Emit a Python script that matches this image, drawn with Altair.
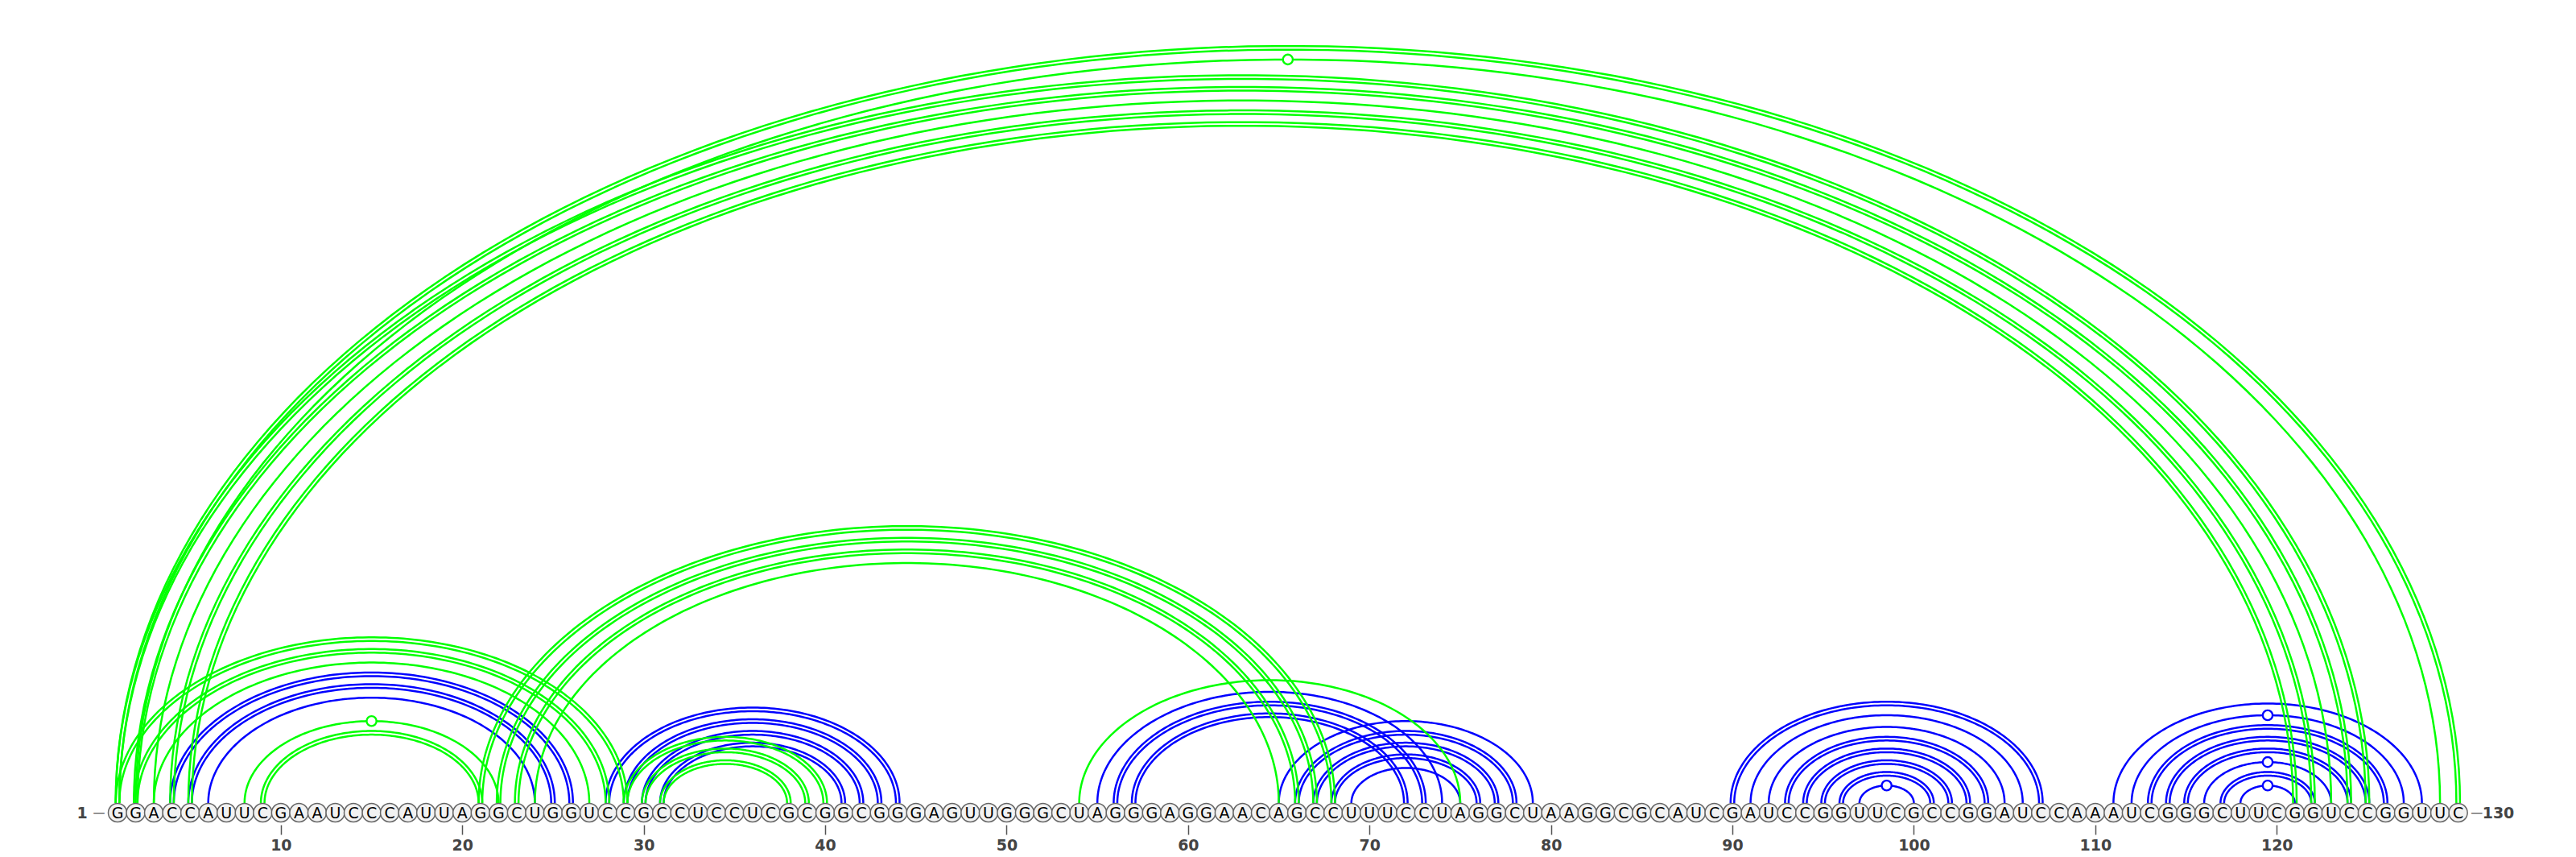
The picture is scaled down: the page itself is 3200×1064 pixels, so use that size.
import altair as alt
import numpy as np
import pandas as pd

sequence = list("GGACCAUUCGAAUCCCAUUAGGCUGGUCCGCCUCCUCGCGGCGGGAGUUGGGCUAGGGAGGAACAGCCUUUCC"
                "UAGGCUAAGGCGCAUCGAUCCGGUUCGCCGGAUCCAAAUCGGGCUUCGGUCCGGUUC")
positions = list(range(1, len(sequence) + 1))
tick_values = list(range(10, 130, 10))

# green structure: 5' end, 3' end, number of strokes drawn for the pair
green_5p = [1, 2, 1, 2, 3, 4, 5, 1, 2, 3, 8, 9, 21, 22, 23, 24, 29, 30, 31, 54]
green_3p = [130, 129, 125, 124, 123, 122, 121, 29, 28, 27, 22, 21, 68, 67, 66, 65, 40, 39, 38, 75]
green_strokes = [2, 1, 2, 2, 1, 2, 2, 2, 2, 1, 1, 2, 2, 2, 2, 1, 2, 2, 2, 1]

# blue structure
blue_5p = [4, 5, 6, 28, 29, 30, 31, 55, 56, 57, 65, 66, 67, 68, 69,
           90, 91, 92, 93, 94, 95, 96, 97, 111, 112, 113, 114, 115, 116, 117, 118]
blue_3p = [26, 25, 24, 44, 43, 42, 41, 74, 73, 72, 79, 78, 77, 76, 75,
           107, 106, 105, 104, 103, 102, 101, 100, 128, 127, 126, 125, 124, 123, 122, 121]
blue_strokes = [2, 2, 1, 2, 2, 2, 2, 1, 2, 2, 1, 2, 2, 2, 1,
                2, 1, 1, 2, 2, 2, 2, 1, 1, 1, 2, 2, 2, 1, 2, 1]

W, H = 3184, 1058
PX = 22.54          # pixels per nucleotide, same on both axes
BASE_R = 0.53       # nucleotide circle radius in nucleotide units
ASPECT = 0.645      # arc height / half width
GAP = 0.1           # half distance between the two strokes of a doubled arc

x_lo = 1 - 138 / PX
x_hi = x_lo + W / PX
y_hi = 1001 / PX
y_lo = y_hi - H / PX


def arc_frame(five, three, strokes, name):
    t = np.linspace(0, np.pi, 140)
    parts = []
    for k, (i, j, n) in enumerate(zip(five, three, strokes)):
        half = (j - i) / 2
        for off in ([0.0] if n == 1 else [-GAP, GAP]):
            parts.append(pd.DataFrame({
                'arc': f'{name}-{k}-{off}',
                'step': range(len(t)),
                'x': (i + j) / 2 - (half + off) * np.cos(t),
                'y': BASE_R + (ASPECT * half + off) * np.sin(t),
            }))
    return pd.concat(parts, ignore_index=True)


def wobble_frame(five, three):
    rows = []
    for i, j in zip(five, three):
        if {sequence[i - 1], sequence[j - 1]} == {'G', 'U'}:
            rows.append({'x': (i + j) / 2, 'y': BASE_R + ASPECT * (j - i) / 2})
    return pd.DataFrame(rows)


x_scale = alt.Scale(domain=[x_lo, x_hi], nice=False, zero=False)
y_scale = alt.Scale(domain=[y_lo, y_hi], nice=False, zero=False)
x_axis = alt.Axis(values=tick_values, format='d', orient='bottom', offset=-(H - 1016),
                  tickSize=12, tickWidth=1.5, tickColor='#555555', domain=False, grid=False,
                  labelFontSize=19, labelFontWeight='bold', labelColor='#444444',
                  labelFont='DejaVu Sans', labelPadding=4, title=None)


def arcs(df, color):
    return alt.Chart(df).mark_line(color=color, strokeWidth=2.5).encode(
        x=alt.X('x:Q', scale=x_scale, axis=x_axis),
        y=alt.Y('y:Q', scale=y_scale, axis=None),
        detail='arc:N',
        order='step:Q'
    )


def wobbles(df, color):
    return alt.Chart(df).mark_point(shape='circle', size=150, fill='white', stroke=color,
                                    strokeWidth=2.4, opacity=1, fillOpacity=1).encode(
        x=alt.X('x:Q', scale=x_scale, axis=x_axis),
        y=alt.Y('y:Q', scale=y_scale, axis=None)
    )


bases = pd.DataFrame({'x': positions, 'y': 0.0, 'base': sequence})
ends = pd.DataFrame({'x': [1, 130], 'y': [0.0, 0.0], 'label': ['1', '130']})

base_circles = alt.Chart(bases).mark_point(shape='circle', size=530, fill='#f2f2f2',
                                           stroke='#666666', strokeWidth=1.5,
                                           opacity=1, fillOpacity=1).encode(
    x=alt.X('x:Q', scale=x_scale, axis=x_axis),
    y=alt.Y('y:Q', scale=y_scale, axis=None)
)
base_text = alt.Chart(bases).mark_text(fontSize=19, font='DejaVu Sans', color='black',
                                       baseline='middle', dy=1).encode(
    x=alt.X('x:Q', scale=x_scale, axis=x_axis),
    y=alt.Y('y:Q', scale=y_scale, axis=None),
    text='base:N'
)

left_label = alt.Chart(ends.iloc[[0]]).mark_text(fontSize=19, fontWeight='bold', font='DejaVu Sans',
                                                 color='#444444', align='center', dx=-44, dy=1).encode(
    x=alt.X('x:Q', scale=x_scale, axis=x_axis), y=alt.Y('y:Q', scale=y_scale, axis=None), text='label:N')
left_dash = alt.Chart(ends.iloc[[0]]).mark_text(fontSize=15, font='DejaVu Sans', color='#555555',
                                                align='center', dx=-23).encode(
    x=alt.X('x:Q', scale=x_scale, axis=x_axis), y=alt.Y('y:Q', scale=y_scale, axis=None),
    text=alt.value('—'))
right_label = alt.Chart(ends.iloc[[1]]).mark_text(fontSize=19, fontWeight='bold', font='DejaVu Sans',
                                                  color='#444444', align='left', dx=30, dy=1).encode(
    x=alt.X('x:Q', scale=x_scale, axis=x_axis), y=alt.Y('y:Q', scale=y_scale, axis=None), text='label:N')
right_dash = alt.Chart(ends.iloc[[1]]).mark_text(fontSize=15, font='DejaVu Sans', color='#555555',
                                                 align='center', dx=23).encode(
    x=alt.X('x:Q', scale=x_scale, axis=x_axis), y=alt.Y('y:Q', scale=y_scale, axis=None),
    text=alt.value('—'))

chart = alt.layer(
    arcs(arc_frame(blue_5p, blue_3p, blue_strokes, 'blue'), '#0000ff'),
    arcs(arc_frame(green_5p, green_3p, green_strokes, 'green'), '#00ff00'),
    wobbles(wobble_frame(blue_5p, blue_3p), '#0000ff'),
    wobbles(wobble_frame(green_5p, green_3p), '#00ff00'),
    base_circles, base_text, left_label, left_dash, right_label, right_dash
).properties(
    width=W, height=H, background='white', padding=0,
    autosize=alt.AutoSizeParams(type='none')
).configure_view(stroke=None)

chart.save("out.html", embed_options={"renderer": "svg", "actions": False})
